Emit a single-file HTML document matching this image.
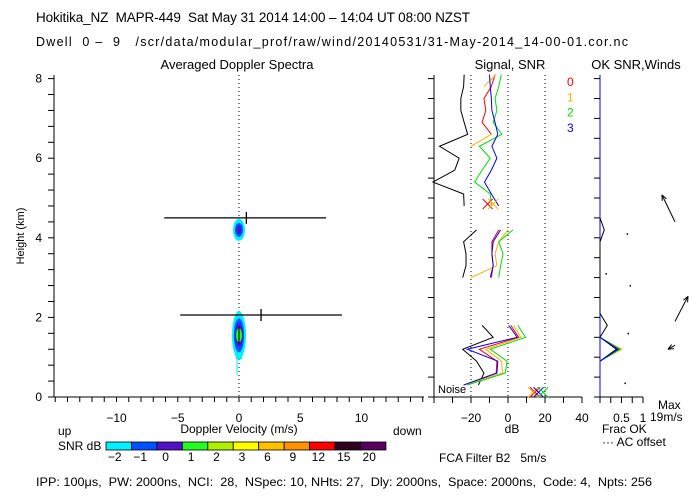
<!DOCTYPE html>
<html><head><meta charset="utf-8">
<style>
html,body{margin:0;padding:0;background:#fff;}
svg{display:block;font-family:"Liberation Sans",sans-serif;}
text{font-size:12px;white-space:pre;}
</style></head>
<body>
<svg id="chart" width="700" height="500" viewBox="0 0 700 500" xml:space="preserve">
<text x="36" y="22" style="font-size:13.5px" textLength="434" lengthAdjust="spacing">Hokitika_NZ  MAPR-449  Sat May 31 2014 14:00 – 14:04 UT 08:00 NZST</text>
<text x="36" y="46" style="font-size:12.5px" textLength="592" lengthAdjust="spacing">Dwell  0 –  9   /scr/data/modular_prof/raw/wind/20140531/31-May-2014_14-00-01.cor.nc</text>
<text x="237" y="69" text-anchor="middle" style="font-size:13px">Averaged Doppler Spectra</text>
<text x="510" y="69" text-anchor="middle" style="font-size:13px">Signal, SNR</text>
<text x="636" y="69" text-anchor="middle" style="font-size:13px">OK SNR,Winds</text>
<text transform="translate(24,236) rotate(-90)" text-anchor="middle" style="font-size:11px">Height (km)</text>
<text x="239" y="433" text-anchor="middle">Doppler Velocity (m/s)</text>
<text x="58" y="435">up</text>
<text x="393" y="435">down</text>
<text x="512" y="433" text-anchor="middle">dB</text>
<text x="602" y="433">Frac OK</text>
<text x="602" y="446">··· AC offset</text>
<text x="658" y="409">Max</text>
<text x="650" y="421">19m/s</text>
<text x="58" y="450">SNR dB</text>
<text x="439" y="462">FCA Filter B2   5m/s</text>
<text x="36" y="486" style="font-size:11.5px" textLength="616" lengthAdjust="spacingAndGlyphs">IPP: 100μs,  PW: 2000ns,  NCI:  28,  NSpec: 10, NHts: 27,  Dly: 2000ns,  Space: 2000ns,  Code: 4,  Npts: 256</text>
<text x="438" y="393" style="font-size:11px">Noise</text>
<g id="g"></g>
</svg>
<script>
// ---- data ----
const gateHeights = [0.3,0.6,0.9,1.2,1.5,1.8,2.1,2.4,2.7,3.0,3.3,3.6,3.9,4.2,4.5,4.8,5.1,5.4,5.7,6.0,6.3,6.6,6.9,7.2,7.5,7.8,8.1];
const signalBlack = [-16,-13,-17,-24.5,-8,-14,null,null,null,-24.5,-22.7,-22.7,-24,-17,null,-23.7,-24,-40.6,-28.8,-26.4,-37,-21.8,-23.7,-25.5,-25.5,-24,-23.7];
const snrRed    = [-24,-6.4,-6,-15.5,5.8,1.5,null,null,null,-9,-8,-8.7,-8.7,-5,null,null,null,null,null,null,null,-9,-14,-12,-13,-9,-7];
const snrOrange = [-24,-3,-3.5,-12,7,3,null,null,null,-20,-6,-7,-5,0,null,null,null,null,null,null,-20,-9,null,null,null,-13,-6.5];
const snrGreen  = [-22,-1.5,-0.5,-9.6,9.5,5.3,null,null,null,-5,-4,-2.7,-5,2.7,null,-9,-9.6,-18,-14,-9.6,-15.5,-3.3,-8,-6,-7,-5,-3.6];
const snrBlue   = [-24,-6,-5.5,-22,5,0.4,null,null,null,-9.6,-8,-8.7,-8,-4,null,-5,-9,-12.7,-9,-6,-8.7,-5.5,-7,-8.7,-9,-9.6,-10];
const noiseDb = [14.6,13.6,16.5,19];
const isolatedH = [4.85,4.85];
const isolatedDb = [-11,-8];
const fracH = [0.9,1.2,1.5];
const fracRed = [0,0.45,0];
const fracOrange = [0,0.5,0];
const fracGreen = [0,0.47,0];
const fracBlue = [0,0.42,0];
const acH = [0.9,1.2,1.5,1.8,2.1,3.9,4.2,4.5];
const acVal = [0,0.38,0,0.17,0,0,0.1,0];
const windH = [4.4,1.9,1.3];
const windU = [-8.7,8.7,-4.7];
const windV = [18,16.7,-2.7];
const dotH = [4.1,3.1,2.8,1.6,0.35];
const dotFrac = [0.63,0.14,0.7,0.65,0.58];
const specH = [4.5,2.06];
const specLeft = [-6.1,-4.8];
const specRight = [7.1,8.4];
const specMean = [0.6,1.8];
const xTicks = [-10,-5,0,5,10];
const dbTicks = [-20,0,20,40];
const hTicks = [0,2,4,6,8];
const cbColors = ["#00f0ff","#0050ff","#5010c8","#20ff20","#b0f000","#ffff00","#ffc000","#ff9000","#ff0000","#300020","#580060"];
const cbLabels = ["−2","−1","0","1","2","3","6","9","12","15","20"];

// ---- scales ----
const Y = h => 397 - h*39.8;
const XV = v => 239 + v*12.25;
const XD = d => 508 + d*1.85;
const XF = f => 600 + f*43;
const NS = "http://www.w3.org/2000/svg";
const g = document.getElementById('g');
function el(tag, attrs){ const e=document.createElementNS(NS,tag); for(const k in attrs) e.setAttribute(k,attrs[k]); g.appendChild(e); return e; }
function line(x1,y1,x2,y2,stroke,extra){ return el('line',Object.assign({x1,y1,x2,y2,stroke,'stroke-width':1},extra||{})); }

// main panel axes
let a = line(54,75,54,397,'#000');  
a = line(54,397,424,397,'#000');  
for(let h=0; h<=8.01; h+=0.4){ line(48,Y(h),54,Y(h),'#000'); }
for(const h of hTicks){ const t=el('text',{x:42,y:Y(h)+4,'text-anchor':'end'}); t.textContent=h;
    }
for(let v=-15; v<=15; v++){ const x=XV(v); if(x>=54&&x<=424) line(x,397,x,402,'#000'); }
for(const v of xTicks){ const t=el('text',{x:XV(v),y:422,'text-anchor':'middle'}); t.textContent=v<0?'−'+(-v):v;
    }
line(239,75,239,397,'#000',{'stroke-dasharray':'1,3'});

// spectra blobs
function blob(cx,cy,rx,ry,fill){ const e=el('ellipse',{cx,cy,rx,ry,fill});   }
blob(XV(0),Y(4.2),6,11,'#00f0ff'); blob(XV(0),Y(4.2),4,7,'#0050ff'); blob(XV(0),Y(4.2),2,4,'#5010c8');
el('rect',{x:XV(0)-3,y:Y(1.5),width:6,height:22,fill:'#00f0ff'});
el('line',{x1:XV(0)-2,y1:Y(1.0),x2:XV(0)-2,y2:Y(0.55),stroke:'#00f0ff'});
blob(XV(0),Y(1.55),7,24,'#00f0ff'); blob(XV(0),Y(1.55),5,17,'#0050ff'); blob(XV(0),Y(1.55),4,11,'#5010c8'); blob(XV(0),Y(1.55),3,7,'#20ff20');
line(XV(0),Y(1.55)-8,XV(0),Y(1.55)+8,'#000');
for(let i=0;i<specH.length;i++){
  const l=line(XV(specLeft[i]),Y(specH[i]),XV(specRight[i]),Y(specH[i]),'#000',{'stroke-width':1.3});
   
  line(XV(specMean[i]),Y(specH[i])-6,XV(specMean[i]),Y(specH[i])+6,'#000',{'stroke-width':1.3});
}

// signal panel
a = line(434,75,434,397,'#000');  
a = line(434,397,582,397,'#000');  
for(let h=0; h<=8.01; h+=0.5){ line(428,Y(h),434,Y(h),'#000'); }
for(let d=-40; d<=40; d+=10) line(XD(d),397,XD(d),403,'#000');
for(const d of dbTicks){ const t=el('text',{x:XD(d),y:422,'text-anchor':'middle'}); t.textContent=d<0?'−'+(-d):d;
    }
for(const d of [-20,0,20]) line(XD(d),75,XD(d),397,'#000',{'stroke-dasharray':'1,3'});
function series(vals,xf,color,name,hs){
  hs = hs||gateHeights; let pts=[];
  const flush=()=>{ if(pts.length>1){ const p=el('polyline',{points:pts.join(' '),fill:'none',stroke:color,'stroke-width':1});
      } pts=[]; };
  for(let i=0;i<vals.length;i++){ if(vals[i]===null){flush();continue;} pts.push(xf(vals[i])+','+Y(hs[i])); }
  flush();
}
series(signalBlack,XD,'#000','signal-line');
series(snrRed,XD,'#ff0000','snr-beam-0');
series(snrOrange,XD,'#ffb000','snr-beam-1');
series(snrGreen,XD,'#00e000','snr-beam-2');
series(snrBlue,XD,'#0000ff','snr-beam-3');
const cols=['#ff0000','#ffb000','#0000ff','#00e000'];
function cross(x,y,c,name){ const s=5; const a1=line(x-s,y-s,x+s,y+s,c); const a2=line(x-s,y+s,x+s,y-s,c);
    }
for(let i=0;i<noiseDb.length;i++) cross(XD(noiseDb[i]),Y(0.12),cols[i],'noise-marker');
for(let i=0;i<isolatedH.length;i++) cross(XD(isolatedDb[i]),Y(isolatedH[i]),cols[i],'isolated-snr-marker');
const leg=[['0','#ff0000'],['1','#ffb000'],['2','#00e000'],['3','#0000ff']];
leg.forEach((l,i)=>{ const t=el('text',{x:567,y:86+i*15.3}); t.style.fill=l[1]; t.textContent=l[0];
    });

// winds panel
a = line(600,75,600,397,'#0000ff');  
line(600,397,643,397,'#000');
for(let h=0; h<=8.01; h+=0.5){ line(594,Y(h),600,Y(h),'#000'); }
for(let f=0; f<=1.001; f+=0.25) line(XF(f),397,XF(f),403,'#000');
[['0.5',0.5],['1',1]].forEach(l=>{ const t=el('text',{x:XF(l[1]),y:422,'text-anchor':'middle'}); t.textContent=l[0];
    });
series(acVal,XF,'#000','ac-offset-line',acH);
series(fracRed,XF,'#ff0000','frac-ok-beam-0',fracH);
series(fracOrange,XF,'#ffb000','frac-ok-beam-1',fracH);
series(fracGreen,XF,'#00e000','frac-ok-beam-2',fracH);
series(fracBlue,XF,'#0000ff','frac-ok-beam-3',fracH);
for(let i=0;i<dotH.length;i++){ const d=el('rect',{x:XF(dotFrac[i])-0.5,y:Y(dotH[i])-0.5,width:1.5,height:1.5,fill:'#000'});
    }
for(let i=0;i<windH.length;i++){
  const x0=675, y0=Y(windH[i]), k=1.5; const x1=x0+windU[i]*k, y1=y0-windV[i]*k;
  const l=line(x0,y0,x1,y1,'#000');  
  const ang=Math.atan2(y1-y0,x1-x0), hl=6;
  line(x1,y1,x1-hl*Math.cos(ang-0.4),y1-hl*Math.sin(ang-0.4),'#000');
  line(x1,y1,x1-hl*Math.cos(ang+0.4),y1-hl*Math.sin(ang+0.4),'#000');
}

// colorbar
const cbx=106, cbw=25.45;
cbColors.forEach((c,i)=>{ const r=el('rect',{x:cbx+i*cbw,y:442,width:cbw,height:8,fill:c,stroke:'#000','stroke-width':0.8});
   
  const t=el('text',{x:cbx+i*cbw+cbw/2-4,y:461,'text-anchor':'middle'}); t.textContent=cbLabels[i];
    });
</script>
</body></html>
